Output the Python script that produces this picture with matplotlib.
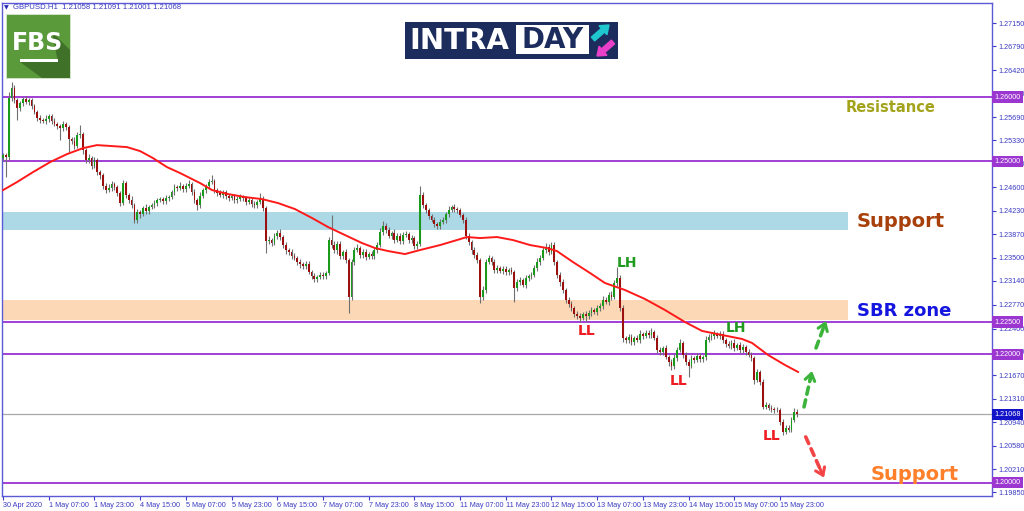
import numpy as np
import matplotlib
matplotlib.use("Agg")
import matplotlib.pyplot as plt
from matplotlib.patches import Rectangle, Polygon, FancyArrow
from matplotlib.transforms import blended_transform_factory

# ---- data (GBPUSD H1) ----
symbol = "GBPUSD.H1"
last_quote = [1.21058, 1.21091, 1.21001, 1.21068]

first_open = 1.25050
closes = [
    1.25098, 1.25067, 1.25984, 1.26140, 1.25953, 1.25829, 1.25907, 1.25969, 1.25922, 1.25953,
    1.25860, 1.25767, 1.25674, 1.25642, 1.25627, 1.25658, 1.25705, 1.25627, 1.25580, 1.25549,
    1.25518, 1.25580, 1.25534, 1.25347, 1.25316, 1.25238, 1.25409, 1.25425, 1.25176, 1.25021,
    1.25052, 1.24927, 1.25021, 1.24834, 1.24787, 1.24617, 1.24554, 1.24585, 1.24648, 1.24601,
    1.24508, 1.24352, 1.24663, 1.24477, 1.24399, 1.24321, 1.24088, 1.24212, 1.24181, 1.24274,
    1.24228, 1.24290, 1.24321, 1.24352, 1.24399, 1.24414, 1.24383, 1.24430, 1.24446, 1.24523,
    1.24601, 1.24585, 1.24617, 1.24570, 1.24617, 1.24648, 1.24523, 1.24399, 1.24321, 1.24461,
    1.24554, 1.24617, 1.24679, 1.24694, 1.24554, 1.24508, 1.24477, 1.24523, 1.24461, 1.24430,
    1.24461, 1.24399, 1.24414, 1.24446, 1.24430, 1.24368, 1.24399, 1.24337, 1.24321, 1.24368,
    1.24414, 1.24274, 1.23762, 1.23777, 1.23730, 1.23839, 1.23886, 1.23824, 1.23699, 1.23622,
    1.23591, 1.23528, 1.23497, 1.23435, 1.23404, 1.23373, 1.23404, 1.23280, 1.23217, 1.23171,
    1.23202, 1.23233, 1.23217, 1.23264, 1.23777, 1.23699, 1.23622, 1.23715, 1.23528, 1.23591,
    1.23466, 1.22891, 1.23435, 1.23622, 1.23653, 1.23544, 1.23591, 1.23513, 1.23559, 1.23528,
    1.23622, 1.23699, 1.23901, 1.23995, 1.23933, 1.23839, 1.23886, 1.23777, 1.23839, 1.23762,
    1.23855, 1.23870, 1.23777, 1.23808, 1.23684, 1.23715, 1.24477, 1.24321, 1.24243, 1.24150,
    1.24088, 1.24026, 1.23995, 1.24057, 1.24088, 1.24181, 1.24243, 1.24290, 1.24259, 1.24243,
    1.24166, 1.24088, 1.23839, 1.23746, 1.23622, 1.23544, 1.23466, 1.22891, 1.23000, 1.23435,
    1.23497, 1.23435, 1.23311, 1.23342, 1.23295, 1.23326, 1.23280, 1.23311, 1.23280, 1.23031,
    1.23124, 1.23155, 1.23078, 1.23186, 1.23217, 1.23233, 1.23342, 1.23435, 1.23497, 1.23622,
    1.23668, 1.23591, 1.23699, 1.23435, 1.23233, 1.23124, 1.23000, 1.22844, 1.22782, 1.22720,
    1.22627, 1.22596, 1.22565, 1.22627, 1.22596, 1.22642, 1.22689, 1.22658, 1.22720, 1.22751,
    1.22844, 1.22813, 1.22922, 1.22891, 1.23109, 1.23186, 1.22720, 1.22254, 1.22223, 1.22269,
    1.22192, 1.22254, 1.22223, 1.22316, 1.22285, 1.22331, 1.22300, 1.22347, 1.22254, 1.22067,
    1.22036, 1.22098, 1.21958, 1.21881, 1.21819, 1.21943, 1.22067, 1.22176, 1.21989, 1.21881,
    1.21819, 1.21943, 1.21912, 1.21974, 1.21927, 1.21958, 1.22223, 1.22269, 1.22285, 1.22316,
    1.22285, 1.22316, 1.22223, 1.22160, 1.22129, 1.22176, 1.22098, 1.22145, 1.22067, 1.22114,
    1.22036, 1.21989, 1.21943, 1.21601, 1.21725, 1.21570, 1.21181, 1.21212, 1.21166, 1.21150,
    1.21134, 1.21134, 1.20948, 1.20792, 1.20855, 1.20824, 1.20979, 1.21103, 1.21068,
]
# wicks in pips above / below the body
wick_up = [
    4, 3, 9, 9, 5, 3, 4, 3, 5, 4, 3, 4, 3, 5, 4, 6, 4, 3, 5, 4,
    3, 5, 4, 3, 4, 6, 5, 14, 3, 4, 6, 3, 5, 3, 4, 3, 5, 6, 4, 3,
    4, 3, 5, 4, 3, 6, 3, 5, 4, 3, 6, 4, 3, 5, 4, 3, 4, 5, 3, 4,
    5, 4, 6, 3, 4, 6, 3, 5, 4, 6, 4, 3, 5, 9, 3, 4, 5, 3, 4, 3,
    4, 3, 5, 4, 3, 4, 5, 3, 4, 3, 9, 5, 4, 6, 3, 5, 4, 6, 3, 4,
    3, 4, 5, 3, 4, 3, 4, 5, 3, 4, 3, 4, 5, 3, 4, 39, 6, 4, 5, 3,
    4, 3, 5, 4, 6, 3, 4, 5, 3, 4, 5, 4, 6, 8, 4, 5, 3, 6, 4, 5,
    4, 5, 3, 4, 3, 4, 14, 5, 4, 3, 4, 5, 3, 4, 5, 4, 6, 4, 5, 3,
    4, 3, 5, 4, 3, 4, 5, 3, 6, 5, 4, 3, 5, 4, 3, 4, 5, 3, 4, 3,
    4, 5, 3, 4, 3, 5, 4, 6, 5, 4, 6, 5, 5, 4, 3, 4, 5, 3, 4, 5,
    3, 4, 5, 3, 4, 5, 4, 3, 5, 4, 6, 4, 5, 6, 5, 17, 4, 5, 3, 4,
    5, 3, 4, 6, 3, 5, 4, 6, 3, 4, 5, 3, 4, 3, 5, 6, 4, 6, 3, 4,
    5, 4, 3, 5, 4, 3, 6, 5, 4, 6, 3, 5, 4, 3, 5, 4, 6, 3, 4, 5,
    3, 4, 5, 3, 4, 3, 4, 5, 3, 4, 3, 4, 3, 4, 5, 4, 5, 6, 4,
]
wick_dn = [
    4, 31, 5, 4, 5, 19, 4, 5, 3, 4, 5, 3, 4, 5, 3, 4, 5, 4, 3, 5,
    19, 4, 5, 20, 4, 5, 3, 4, 6, 5, 4, 5, 3, 4, 6, 5, 4, 3, 5, 4,
    5, 4, 3, 5, 4, 5, 5, 4, 6, 3, 5, 4, 3, 5, 4, 3, 4, 5, 4, 3,
    4, 5, 3, 4, 5, 3, 4, 5, 8, 4, 3, 5, 4, 3, 4, 5, 3, 4, 5, 4,
    3, 4, 5, 3, 4, 5, 3, 4, 5, 4, 3, 5, 19, 4, 5, 3, 4, 5, 4, 6,
    5, 4, 3, 5, 6, 4, 5, 3, 4, 5, 4, 3, 5, 4, 3, 5, 4, 6, 4, 5,
    4, 25, 5, 4, 3, 5, 4, 5, 3, 4, 5, 4, 3, 5, 4, 3, 5, 4, 3, 5,
    4, 3, 5, 4, 5, 4, 3, 5, 4, 5, 3, 4, 5, 4, 3, 5, 4, 3, 4, 5,
    3, 4, 5, 4, 6, 5, 4, 9, 5, 4, 3, 5, 4, 5, 3, 4, 5, 4, 3, 22,
    4, 5, 3, 4, 5, 4, 3, 5, 4, 3, 5, 4, 3, 5, 4, 6, 5, 4, 5, 4,
    5, 4, 6, 3, 9, 4, 5, 3, 4, 5, 4, 3, 4, 5, 3, 4, 5, 6, 4, 5,
    4, 5, 3, 4, 5, 3, 4, 5, 3, 4, 5, 4, 3, 6, 6, 5, 4, 3, 4, 5,
    17, 4, 5, 3, 4, 5, 4, 3, 5, 4, 3, 4, 5, 4, 3, 5, 4, 3, 4, 5,
    4, 3, 5, 6, 4, 5, 4, 3, 4, 5, 4, 3, 5, 5, 4, 3, 4, 3, 4,
]

# moving average (bar index, price)
ma_idx = [0, 4.9, 10.5, 16.5, 22.4, 28, 32.9, 38.5, 43.4, 48,
          52.5, 57.4, 62, 69, 73.2, 78.8, 84.7, 90.7, 96.3, 102.2,
          108.2, 113.8, 119.7, 125.7, 130.2, 134.8, 140.7, 146, 153, 158.9,
          162.4, 167, 172.9, 178.5, 184.5, 190.4, 193.9, 199.5, 205.5, 210.7,
          217.7, 224.7, 231.7, 238.7, 244.7, 251.7, 258.7, 262.2, 267.8, 273.7, 278.3]
ma_val = [1.24554, 1.24679, 1.24834, 1.24990, 1.25114, 1.25207, 1.25254, 1.25238, 1.25223, 1.25161,
          1.25052, 1.24912, 1.24819, 1.24663, 1.24554, 1.24492, 1.24446, 1.24414, 1.24352, 1.24259,
          1.24119, 1.23979, 1.23855, 1.23730, 1.23653, 1.23606, 1.23559, 1.23622, 1.23699, 1.23777,
          1.23824, 1.23808, 1.23824, 1.23777, 1.23699, 1.23653, 1.23606, 1.23435, 1.23264, 1.23109,
          1.23000, 1.22860, 1.22689, 1.22502, 1.22363, 1.22300, 1.22238, 1.22176, 1.21989, 1.21834, 1.21725]

time_labels = ["30 Apr 2020", "1 May 07:00", "1 May 23:00", "4 May 15:00", "5 May 07:00",
               "5 May 23:00", "6 May 15:00", "7 May 07:00", "7 May 23:00", "8 May 15:00",
               "11 May 07:00", "11 May 23:00", "12 May 15:00", "13 May 07:00", "13 May 23:00",
               "14 May 15:00", "15 May 07:00", "15 May 23:00"]
price_ticks = [1.27150, 1.26790, 1.26420, 1.26060, 1.25690, 1.25330, 1.24970, 1.24600,
               1.24230, 1.23870, 1.23500, 1.23140, 1.22770, 1.22400, 1.22040, 1.21670,
               1.21310, 1.20940, 1.20580, 1.20210, 1.19850]

levels = [1.26000, 1.25000, 1.22500, 1.22000, 1.20000]
support_zone = [1.23933, 1.24212]
sbr_zone = [1.22534, 1.22844]

# ---- figure ----
fig = plt.figure(figsize=(10.24, 5.11), dpi=100)
ax = fig.add_axes([2 / 1024, 15 / 511, 990 / 1024, 493 / 511])
axis_col = '#3b3bc4'
small = dict(family='Liberation Sans', size=5.2)

n = len(closes)
c = np.array(closes)
o = np.concatenate([[first_open], c[:-1]])
hi = np.maximum(o, c) + np.array(wick_up[:n]) * 0.0001
lo = np.minimum(o, c) - np.array(wick_dn[:n]) * 0.0001
x = np.arange(n)

# zones
ax.fill_between([-1, 295.8], support_zone[0], support_zone[1], color='#add8e6', lw=0, zorder=1)
ax.fill_between([-1, 295.8], sbr_zone[0], sbr_zone[1], color='#fdd8b6', lw=0, zorder=1)

for lv in levels:
    ax.axhline(lv, color='#a23fd6', lw=1.4, zorder=2)
ax.axhline(last_quote[3], color='#a8a8a8', lw=0.9, zorder=2)

# candles
ax.vlines(x, lo, hi, color='#707070', lw=0.8, zorder=3)
up = c >= o
body = np.maximum(np.abs(c - o), 0.00006)
ax.bar(x[up], body[up], bottom=np.minimum(o, c)[up], width=0.62, color='#1a9a1a', lw=0, zorder=4)
ax.bar(x[~up], body[~up], bottom=np.minimum(o, c)[~up], width=0.62, color='#9b0f0f', lw=0, zorder=4)

ax.plot(ma_idx, ma_val, color='#ff1a1a', lw=1.4, zorder=5)

ax.set_xlim(-0.35, 346.2)
ax.set_ylim(1.19795, 1.27465)

ax.yaxis.tick_right()
ax.set_yticks(price_ticks)
ax.set_yticklabels([f"{p:.5f}" for p in price_ticks], fontdict=small)
ax.set_xticks(np.arange(len(time_labels)) * 16)
ax.set_xticklabels(time_labels, fontdict=small)
for lbl in ax.get_xticklabels():
    lbl.set_horizontalalignment('left')
ax.tick_params(axis='both', colors=axis_col, length=3, width=0.8, pad=1.5)
for sp in ax.spines.values():
    sp.set_color('#5a5ad6')
    sp.set_linewidth(1)

# price tags on the right
tr = blended_transform_factory(ax.transAxes, ax.transData)
for lv in levels:
    ax.text(1.0025, lv, f"{lv:.5f}", transform=tr, ha='left', va='center', fontdict=small,
            color='white', clip_on=False, zorder=8,
            bbox=dict(boxstyle='square,pad=0.3', fc='#9c36d0', ec='none'))
ax.text(1.0025, last_quote[3], f"{last_quote[3]:.5f}", transform=tr, ha='left', va='center',
        fontdict=small, color='white', clip_on=False, zorder=8,
        bbox=dict(boxstyle='square,pad=0.3', fc='#1212c8', ec='none'))

# annotations
ax.text(310.8, 1.25844, "Resistance", color='#a3a31c', fontsize=10.5, fontweight='bold', ha='center', va='center')
ax.text(314.3, 1.24072, "Support", color='#a8400c', fontsize=14, fontweight='bold', ha='center', va='center')
ax.text(315.4, 1.22673, "SBR zone", color='#1515e0', fontsize=13, fontweight='bold', ha='center', va='center')
ax.text(319.2, 1.20124, "Support", color='#ff7f2a', fontsize=14, fontweight='bold', ha='center', va='center')
for (bx, by, t) in [(218.4, 1.23420, "LH"), (256.6, 1.22409, "LH")]:
    ax.text(bx, by, t, color='#1f9a1f', fontsize=10, fontweight='bold', ha='center', va='center', zorder=6)
for (bx, by) in [(204.4, 1.22362), (236.6, 1.21585), (269.2, 1.20730)]:
    ax.text(bx, by, "LL", color='#ee1c24', fontsize=10, fontweight='bold', ha='center', va='center', zorder=6)


def dashed_arrow(start, end, col):
    ax.annotate('', xy=end, xytext=start, zorder=6,
                arrowprops=dict(arrowstyle='-', ls=(0, (2, 1.6)), lw=2.6, color=col,
                                shrinkA=0, shrinkB=3))
    back = (end[0] - (end[0] - start[0]) * 0.25, end[1] - (end[1] - start[1]) * 0.25)
    ax.annotate('', xy=end, xytext=back, zorder=6,
                arrowprops=dict(arrowstyle='->,head_length=0.5,head_width=0.35', lw=2.2,
                                color=col, shrinkA=0, shrinkB=0))


dashed_arrow((280.4, 1.21181), (283.2, 1.21740), '#3cb43c')
dashed_arrow((284.6, 1.22098), (288.1, 1.22520), '#3cb43c')
dashed_arrow((281.0, 1.20714), (287.4, 1.20080), '#f24444')

# ---- overlay: header and logos in pixel coords ----
ov = fig.add_axes([0, 0, 1, 1], zorder=10)
ov.set_xlim(0, 1024)
ov.set_ylim(511, 0)
ov.axis('off')
ov.patch.set_visible(False)

ov.text(4, 7.5, "\u25bc", fontsize=4.5, color='#2a2ab8', va='center')
ov.text(13, 7.5, f"{symbol}  " + " ".join(f"{v:.5f}" for v in last_quote),
        fontdict=dict(family='Liberation Sans', size=5.6), color='#3b3bc4', va='center')

# FBS logo
ov.add_patch(Rectangle((6, 14), 64, 64, fc='#5a9a3b', ec='#d8e8d0', lw=0.6))
ov.add_patch(Polygon([(52, 32), (70, 50), (70, 78), (42, 78), (20, 62), (58, 62)],
                     closed=True, fc='#3f7228', ec='none'))
ov.text(38, 43, "FBS", color='white', fontsize=17, fontweight='bold', ha='center', va='center')
ov.add_patch(Rectangle((20, 59), 38, 3, fc='white', ec='none'))

# INTRADAY logo
navy = '#1c2d5d'
ov.add_patch(Rectangle((405, 22), 213, 37, fc=navy, ec='none'))
ov.text(409, 41, "INTRA", color='white', fontsize=21, fontweight='bold', ha='left', va='center')
ov.add_patch(Rectangle((516, 25), 73, 29, fc='white', ec='none'))
ov.text(552.5, 40.5, "DAY", color=navy, fontsize=20, fontweight='bold', ha='center', va='center')
ov.add_patch(FancyArrow(593, 39, 16, -14, width=5, head_width=12, head_length=8,
                        length_includes_head=True, color='#1fc7cf'))
ov.add_patch(FancyArrow(613, 42, -16, 14, width=5, head_width=12, head_length=8,
                        length_includes_head=True, color='#e93fc9'))

fig.savefig("out.png", dpi=100)
